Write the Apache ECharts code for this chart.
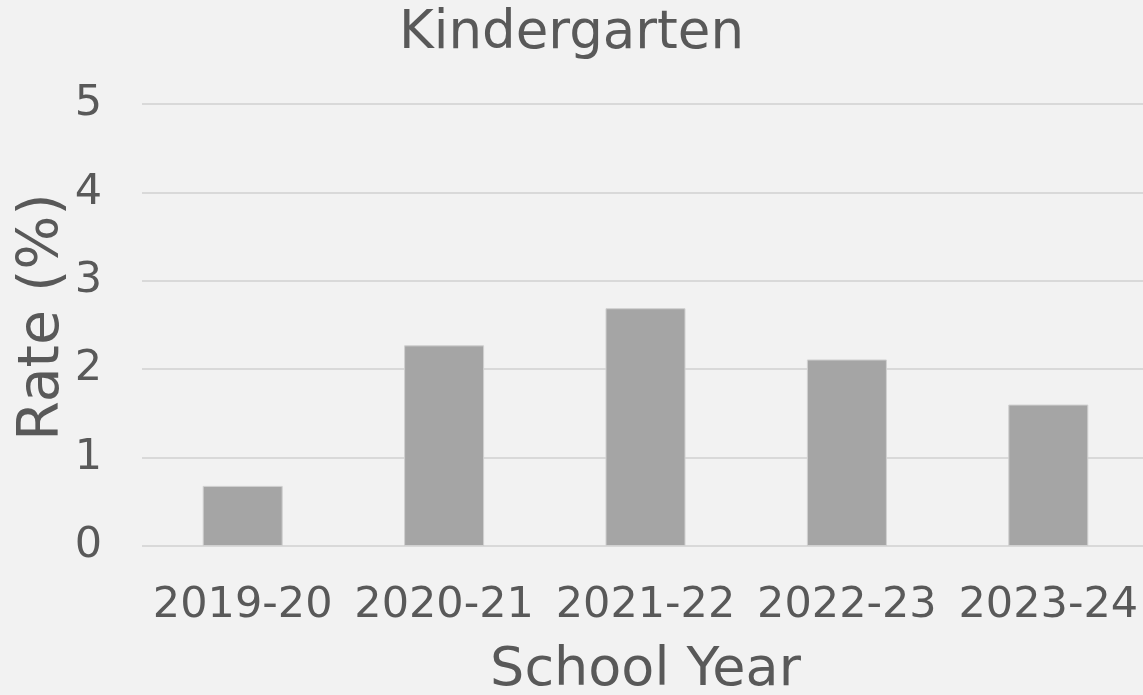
<!DOCTYPE html>
<html><head><meta charset="utf-8">
<script src="https://cdn.jsdelivr.net/npm/echarts@6/dist/echarts.min.js"></script>
<style>html,body{margin:0;padding:0;background:#f2f2f2;}#c{width:1143px;height:695px;}</style>
</head><body><div id="c"></div>
<script>
const categories = ['2019-20','2020-21','2021-22','2022-23','2023-24'];
const rates = [0.68, 2.27, 2.69, 2.11, 1.60];
const yTicks = [0, 1, 2, 3, 4, 5];
const chart = echarts.init(document.getElementById('c'));
const font = 'DejaVu Sans';
const txt = '#595959';
chart.setOption({
  backgroundColor: '#f2f2f2',
  animation: false,
  title: {text: 'Kindergarten', left: 'center', top: 8, padding: 0,
    textStyle: {fontFamily: font, fontSize: 53, fontWeight: 'normal', color: txt}},
  grid: {left: 142, right: -6, top: 104, bottom: 149, containLabel: false, outerBoundsMode: 'none'},
  xAxis: {type: 'category', data: categories,
    axisLine: {show: false}, axisTick: {show: false},
    axisLabel: {fontFamily: font, fontSize: 43, color: txt, margin: 38, interval: 0},
    name: 'School Year', nameLocation: 'middle', nameGap: 98, nameMoveOverlap: false,
    nameTextStyle: {fontFamily: font, fontSize: 54, color: txt}},
  yAxis: {type: 'value', min: yTicks[0], max: yTicks[yTicks.length-1], interval: 1,
    axisLine: {show: false}, axisTick: {show: false},
    splitLine: {lineStyle: {color: '#d9d9d9', width: 2}},
    axisLabel: {fontFamily: font, fontSize: 43, color: txt, margin: 40},
    name: 'Rate (%)', nameLocation: 'middle', nameGap: 70, nameRotate: 90, nameMoveOverlap: false,
    nameTextStyle: {fontFamily: font, fontSize: 57, color: txt, padding: [0, 0, 0, 16]}},
  series: [{type: 'bar', data: rates, barWidth: 80,
    itemStyle: {color: '#a5a5a5', borderColor: '#d0d0d0', borderWidth: 1}}]
});
</script></body></html>
